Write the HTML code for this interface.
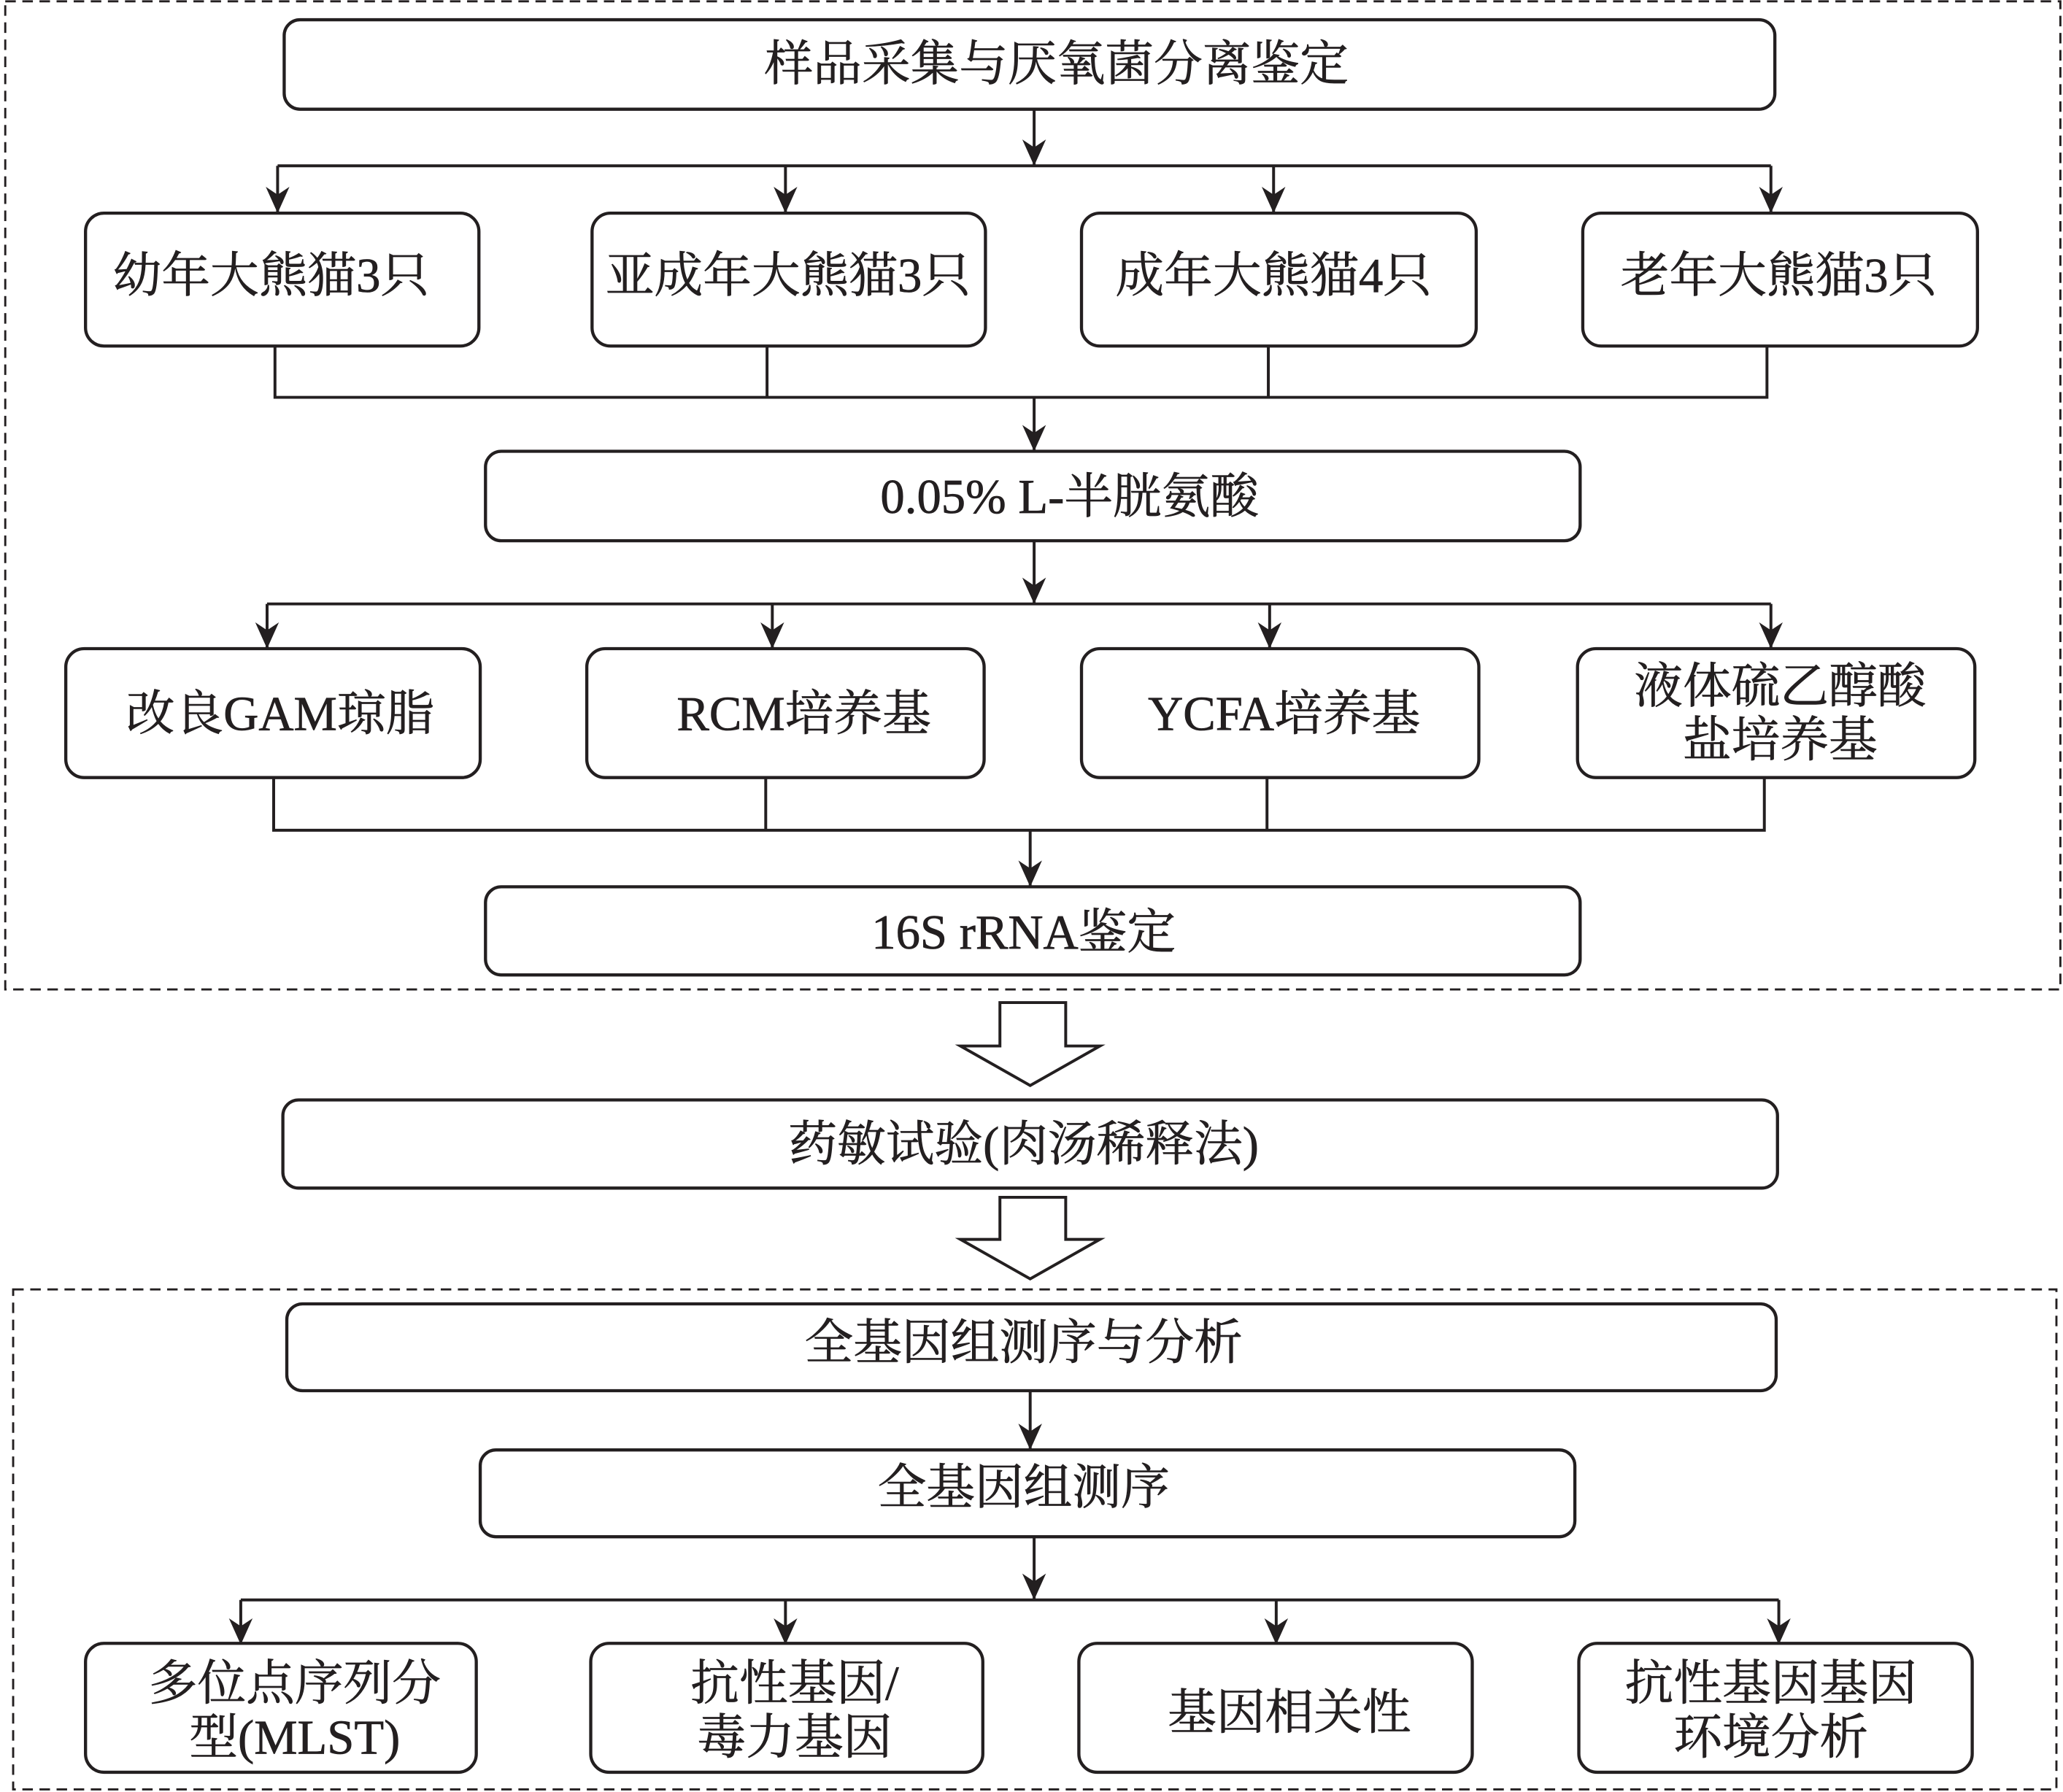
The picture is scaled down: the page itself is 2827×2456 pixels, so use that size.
<!DOCTYPE html>
<html><head><meta charset="utf-8"><style>
html,body{margin:0;padding:0;background:#fff}
svg{display:block}
text{font-family:"Liberation Serif","Noto Serif CJK SC",serif;fill:#231f20;stroke:#231f20;stroke-width:0.4;text-anchor:middle;dominant-baseline:central;font-size:37px}
</style></head><body>
<svg width="2827" height="2456" viewBox="0 0 1568 1362" preserveAspectRatio="none" xmlns="http://www.w3.org/2000/svg">
<defs>
<marker id="a" markerUnits="userSpaceOnUse" markerWidth="20" markerHeight="22" refX="9" refY="20" orient="0" viewBox="0 0 18 22">
<path d="M0,0 L9,6 L18,0 L9,20 Z" fill="#231f20"/>
</marker>
</defs>
<g fill="none" stroke="#231f20" stroke-width="2">
<rect x="4" y="1" width="1562" height="751" stroke-dasharray="8,5" stroke-width="1.6"/>
<rect x="10" y="980" width="1553" height="380" stroke-dasharray="8,5" stroke-width="1.6"/>
<g stroke-width="2.4">
<rect x="216" y="15" width="1133" height="68" rx="12"/>
<rect x="65" y="162" width="299" height="101" rx="14"/>
<rect x="450" y="162" width="299" height="101" rx="14"/>
<rect x="822" y="162" width="300" height="101" rx="14"/>
<rect x="1203" y="162" width="300" height="101" rx="14"/>
<rect x="369" y="343" width="832" height="68" rx="12"/>
<rect x="50" y="493" width="315" height="98" rx="14"/>
<rect x="446" y="493" width="302" height="98" rx="14"/>
<rect x="822" y="493" width="302" height="98" rx="14"/>
<rect x="1199" y="493" width="302" height="98" rx="14"/>
<rect x="369" y="674" width="832" height="67" rx="12"/>
<rect x="215" y="836" width="1136" height="67" rx="12"/>
<rect x="218" y="991" width="1132" height="66" rx="12"/>
<rect x="365" y="1102" width="832" height="66" rx="12"/>
<rect x="65" y="1249" width="297" height="98" rx="14"/>
<rect x="449" y="1249" width="298" height="98" rx="14"/>
<rect x="820" y="1249" width="299" height="98" rx="14"/>
<rect x="1200" y="1249" width="299" height="98" rx="14"/>
</g>
<g stroke-width="2.2">
<path d="M786 83V126" marker-end="url(#a)"/>
<path d="M211 126H1346"/>
<path d="M211 126V162" marker-end="url(#a)"/>
<path d="M597 126V162" marker-end="url(#a)"/>
<path d="M968 126V162" marker-end="url(#a)"/>
<path d="M1346 126V162" marker-end="url(#a)"/>
<path d="M209 263V302H1343V263M583 263V302M964 263V302"/>
<path d="M786 302V343" marker-end="url(#a)"/>
<path d="M786 411V459" marker-end="url(#a)"/>
<path d="M203 459H1346"/>
<path d="M203 459V493" marker-end="url(#a)"/>
<path d="M587 459V493" marker-end="url(#a)"/>
<path d="M965 459V493" marker-end="url(#a)"/>
<path d="M1346 459V493" marker-end="url(#a)"/>
<path d="M208 591V631H1341V591M582 591V631M963 591V631"/>
<path d="M783 631V674" marker-end="url(#a)"/>
<path d="M760 762H810V795H836L783 825L730 795H760Z"/>
<path d="M760 910H810V942H836L783 972L730 942H760Z"/>
<path d="M783 1057V1102" marker-end="url(#a)"/>
<path d="M786 1168V1216" marker-end="url(#a)"/>
<path d="M183 1216H1352"/>
<path d="M183 1216V1250" marker-end="url(#a)"/>
<path d="M597 1216V1250" marker-end="url(#a)"/>
<path d="M970 1216V1250" marker-end="url(#a)"/>
<path d="M1352 1216V1250" marker-end="url(#a)"/>
</g>
</g>
<text x="803" y="49">样品采集与厌氧菌分离鉴定</text>
<text x="206" y="210">幼年大熊猫3只</text>
<text x="599" y="210">亚成年大熊猫3只</text>
<text x="968" y="210">成年大熊猫4只</text>
<text x="1352" y="210">老年大熊猫3只</text>
<text x="813" y="378">0.05% L-半胱氨酸</text>
<text x="213" y="543">改良GAM琼脂</text>
<text x="611" y="543">RCM培养基</text>
<text x="976" y="543">YCFA培养基</text>
<text x="1353" y="522">液体硫乙醇酸</text>
<text x="1353" y="563">盐培养基</text>
<text x="778" y="709">16S rRNA鉴定</text>
<text x="778" y="870">药敏试验(肉汤稀释法)</text>
<text x="778" y="1021">全基因组测序与分析</text>
<text x="778" y="1131">全基因组测序</text>
<text x="224" y="1280">多位点序列分</text>
<text x="224" y="1321">型(MLST)</text>
<text x="604" y="1280">抗性基因/</text>
<text x="604" y="1321">毒力基因</text>
<text x="980" y="1302">基因相关性</text>
<text x="1346" y="1280">抗性基因基因</text>
<text x="1346" y="1321">环境分析</text>
</svg>
</body></html>
